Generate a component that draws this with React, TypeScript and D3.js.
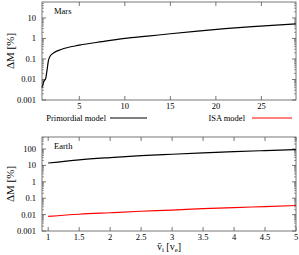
import React from "react";
import * as d3 from "d3";

// Mars panel: primordial model only
const marsV = [0.9, 1.1, 1.3, 1.45, 1.6, 1.8, 2.2, 3, 5, 7.5, 10, 12.5, 15, 18, 21, 24, 28.8];
const marsDM = [0.004, 0.008, 0.011, 0.028, 0.08, 0.14, 0.2, 0.29, 0.47, 0.7, 1.0, 1.3, 1.7, 2.3, 3.0, 3.8, 5.2];

// Earth panel: both models
const earthV = [1, 1.5, 2, 2.5, 3, 3.5, 4, 4.5, 5];
const earthPrimordial = [14, 22, 30, 39, 48, 58, 69, 80, 92];
const earthISA = [0.0078, 0.0105, 0.013, 0.016, 0.019, 0.023, 0.027, 0.031, 0.036];

const marsXTicks = [5, 10, 15, 20, 25];
const earthXTicks = [1, 1.5, 2, 2.5, 3, 3.5, 4, 4.5, 5];
const marsYTicks = [0.001, 0.01, 0.1, 1, 10];
const earthYTicks = [0.001, 0.01, 0.1, 1, 10, 100];

const W = 299;
const H = 255;
const left = 42;
const right = 296;
const font = "'Liberation Serif', 'DejaVu Serif', serif";
const frame = "#555";

type PanelProps = {
  top: number;
  bottom: number;
  xDomain: [number, number];
  yDomain: [number, number];
  xTicks: number[];
  yTicks: number[];
  name: string;
  series: { xs: number[]; ys: number[]; color: string }[];
};

function Panel({ top, bottom, xDomain, yDomain, xTicks, yTicks, name, series }: PanelProps) {
  const x = d3.scaleLinear().domain(xDomain).range([left, right]);
  const y = d3.scaleLog().domain(yDomain).range([bottom, top]);

  // minor ticks for log axis
  const minors: number[] = [];
  const lo = Math.floor(Math.log10(yDomain[0]));
  const hi = Math.ceil(Math.log10(yDomain[1]));
  for (let e = lo; e < hi; e++) {
    for (let m = 2; m <= 9; m++) {
      const v = m * Math.pow(10, e);
      if (v > yDomain[0] && v < yDomain[1]) minors.push(v);
    }
  }

  const fmtY = (v: number) => (v >= 1 ? String(v) : v.toFixed(Math.round(-Math.log10(v))));

  return (
    <g>
      {yTicks.map((t) => (
        <g key={"y" + t}>
          <line x1={left} x2={left + 4} y1={y(t)} y2={y(t)} stroke={frame} strokeWidth={0.8} />
          <line x1={right} x2={right - 4} y1={y(t)} y2={y(t)} stroke={frame} strokeWidth={0.8} />
          <text x={left - 6} y={y(t)} dy="0.35em" textAnchor="end" fontSize={8.5} fontFamily={font}>
            {fmtY(t)}
          </text>
        </g>
      ))}
      {minors.map((t) => (
        <g key={"m" + t}>
          <line x1={left} x2={left + 2} y1={y(t)} y2={y(t)} stroke={frame} strokeWidth={0.6} />
          <line x1={right} x2={right - 2} y1={y(t)} y2={y(t)} stroke={frame} strokeWidth={0.6} />
        </g>
      ))}
      {xTicks.map((t) => (
        <g key={"x" + t}>
          <line x1={x(t)} x2={x(t)} y1={bottom} y2={bottom - 4} stroke={frame} strokeWidth={0.8} />
          <line x1={x(t)} x2={x(t)} y1={top} y2={top + 4} stroke={frame} strokeWidth={0.8} />
          <text x={x(t)} y={bottom + 9} textAnchor="middle" fontSize={8.5} fontFamily={font}>
            {String(t)}
          </text>
        </g>
      ))}
      {series.map((s, i) => {
        const line = d3
          .line<number>()
          .x((_, j) => x(s.xs[j]))
          .y((d) => y(d))
          .curve(d3.curveMonotoneX);
        return <path key={i} d={line(s.ys) || ""} fill="none" stroke={s.color} strokeWidth={1.2} />;
      })}
      <rect x={left} y={top} width={right - left} height={bottom - top} fill="none" stroke={frame} strokeWidth={0.8} />
      <text x={left + 12} y={top + 12} fontSize={8.5} fontFamily={font}>
        {name}
      </text>
      <text
        transform={`translate(14,${(top + bottom) / 2}) rotate(-90)`}
        textAnchor="middle"
        fontSize={11}
        fontFamily={font}
      >
        ΔM [%]
      </text>
    </g>
  );
}

export default function App() {
  return (
    <svg width={W} height={H} style={{ position: "absolute", left: 0, top: 0, background: "#fff" }}>
      <Panel
        top={2}
        bottom={100}
        xDomain={[0.9, 28.8]}
        yDomain={[0.001, 60]}
        xTicks={marsXTicks}
        yTicks={marsYTicks}
        name="Mars"
        series={[{ xs: marsV, ys: marsDM, color: "#000" }]}
      />
      <Panel
        top={137}
        bottom={231}
        xDomain={[0.9, 5]}
        yDomain={[0.001, 540]}
        xTicks={earthXTicks}
        yTicks={earthYTicks}
        name="Earth"
        series={[
          { xs: earthV, ys: earthPrimordial, color: "#000" },
          { xs: earthV, ys: earthISA, color: "#ff0000" },
        ]}
      />
      {/* legend */}
      <text x={106} y={121} textAnchor="end" fontSize={8.5} fontFamily={font}>
        Primordial model
      </text>
      <line x1={110} x2={147} y1={118} y2={118} stroke="#000" strokeWidth={1.2} />
      <text x={245} y={121} textAnchor="end" fontSize={8.5} fontFamily={font}>
        ISA  model
      </text>
      <line x1={252} x2={292} y1={118} y2={118} stroke="#ff0000" strokeWidth={1.2} />
      {/* x label */}
      <text x={(left + right) / 2} y={250} textAnchor="middle" fontSize={10} fontFamily={font}>
        v̄
        <tspan fontSize={7} dy={2}>i</tspan>
        <tspan dy={-2}> [v</tspan>
        <tspan fontSize={7} dy={2}>e</tspan>
        <tspan dy={-2}>]</tspan>
      </text>
    </svg>
  );
}
